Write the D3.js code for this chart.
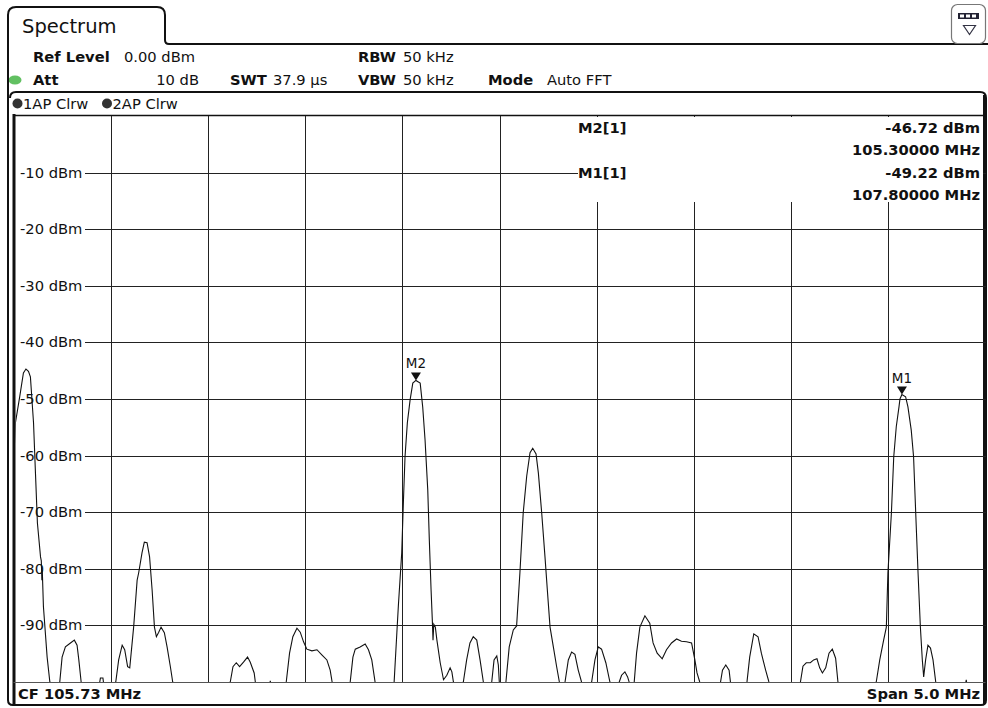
<!DOCTYPE html>
<html><head><meta charset="utf-8">
<script src="https://cdn.jsdelivr.net/npm/d3@7"></script>
<style>
body{margin:0;background:#fff}
svg{display:block}
text{font-family:"DejaVu Sans",Verdana,sans-serif;fill:#111}
</style>
</head><body>
<svg id="c" width="988" height="708"></svg>
<script>
// ---- data ----
const centerFreq = 105.73;   // MHz
const spanMHz = 5.0;
const refLevel = 0;          // dBm (top)
const bottomLevel = -100;    // dBm (bottom)
const levelTicks = [-10, -20, -30, -40, -50, -60, -70, -80, -90];
const levelTickLabels = ["-10 dBm","-20 dBm","-30 dBm","-40 dBm","-50 dBm","-60 dBm","-70 dBm","-80 dBm","-90 dBm"];
const traceFreqs = [103.230,103.240,103.261,103.281,103.294,103.307,103.317,103.333,103.343,103.353,103.369,103.373,103.376,103.378,103.384,103.403,103.417,103.440,103.468,103.480,103.497,103.523,103.543,103.557,103.566,103.578,103.620,103.667,103.677,103.690,103.698,103.728,103.756,103.771,103.789,103.802,103.817,103.828,103.848,103.866,103.874,103.891,103.903,103.917,103.930,103.943,103.955,103.965,103.977,103.989,104.006,104.020,104.037,104.049,104.090,104.200,104.345,104.359,104.376,104.393,104.413,104.434,104.448,104.468,104.474,104.510,104.545,104.551,104.556,104.602,104.633,104.650,104.667,104.688,104.705,104.722,104.739,104.765,104.791,104.816,104.842,104.859,104.869,104.910,104.962,104.976,104.988,105.013,105.039,105.056,105.073,105.090,105.142,105.188,105.202,105.210,105.227,105.236,105.244,105.256,105.270,105.284,105.300,105.322,105.335,105.347,105.361,105.369,105.378,105.385,105.388,105.392,105.400,105.408,105.425,105.442,105.459,105.476,105.485,105.493,105.517,105.544,105.561,105.578,105.595,105.613,105.630,105.647,105.666,105.690,105.702,105.716,105.724,105.729,105.748,105.763,105.780,105.801,105.818,105.835,105.852,105.870,105.887,105.901,105.918,105.930,105.947,105.964,105.976,105.990,106.007,106.024,106.038,106.052,106.067,106.084,106.101,106.118,106.135,106.152,106.174,106.204,106.221,106.238,106.255,106.277,106.298,106.323,106.346,106.358,106.375,106.389,106.397,106.411,106.423,106.435,106.452,106.478,106.503,106.520,106.541,106.567,106.589,106.615,106.641,106.666,106.692,106.718,106.735,106.746,106.760,106.812,106.867,106.877,106.894,106.911,106.918,106.966,107.003,107.017,107.038,107.060,107.077,107.099,107.116,107.197,107.278,107.291,107.308,107.329,107.346,107.363,107.377,107.391,107.408,107.425,107.442,107.459,107.471,107.557,107.668,107.686,107.706,107.720,107.728,107.746,107.758,107.771,107.785,107.790,107.800,107.819,107.831,107.848,107.860,107.871,107.883,107.895,107.905,107.912,107.922,107.934,107.947,107.960,107.974,108.045,108.122,108.131,108.138,108.225];
const traceLevels = [-61.5,-54.2,-49.8,-45.4,-44.7,-45.1,-46.1,-54.2,-63.1,-71.9,-77.9,-78.6,-82.0,-80.2,-86.7,-95.6,-100,-103,-100,-95.6,-93.8,-93.1,-92.6,-93.5,-96.1,-100,-103,-101.4,-99.3,-99.3,-101.4,-103,-100,-96.1,-93.5,-94.3,-97.3,-97.5,-90.3,-82.0,-80.7,-77.2,-75.3,-75.4,-77.9,-83.7,-90.3,-92.0,-91.2,-90.3,-91.3,-93.8,-97.3,-100,-104,-104,-100,-97.3,-96.6,-97.3,-96.5,-95.6,-96.5,-98.4,-100,-103,-101,-99.8,-101,-103,-100,-94.9,-92.0,-90.5,-91.2,-92.9,-94.2,-94.5,-94.3,-95.2,-96.1,-97.9,-100,-103,-100,-95.6,-94.2,-93.8,-93.3,-94.3,-96.1,-100,-103,-100,-91.3,-86.4,-77.2,-67.8,-60.2,-54.2,-50.2,-47.2,-46.72,-47.2,-51.4,-57.2,-66.1,-74.9,-83.7,-89.6,-92.6,-89.8,-90.3,-92.6,-96.6,-99.6,-98.8,-97.5,-98.2,-100,-103,-100,-96.1,-93.1,-92.0,-92.6,-96.1,-100,-103,-100,-96.1,-95.4,-97.0,-100,-103,-100,-93.8,-90.8,-90.1,-80.7,-70.1,-63.6,-59.5,-58.7,-59.7,-63.1,-70.1,-77.9,-83.7,-90.3,-93.8,-97.3,-100,-103,-100,-96.1,-94.7,-95.1,-97.9,-100,-103,-100,-96.1,-93.8,-94.2,-96.6,-100,-103,-100,-98.8,-98.2,-99.1,-100,-103,-100,-94.9,-90.3,-88.3,-89.6,-93.1,-94.9,-95.9,-94.3,-93.1,-92.4,-92.8,-92.9,-93.1,-96.1,-98.4,-100,-103,-100,-97.9,-97.0,-97.9,-100,-103,-100,-95.6,-91.5,-92.0,-94.9,-97.9,-100,-103,-100,-97.2,-96.6,-96.6,-96.1,-95.9,-97.5,-98.4,-97.5,-94.9,-94.2,-95.8,-100,-103,-100,-96.1,-92.6,-90.3,-80.7,-70.1,-60.2,-54.9,-51.4,-50.0,-49.22,-49.6,-51.4,-55.5,-60.2,-70.1,-80.7,-90.3,-96.1,-99.1,-96.1,-93.5,-94.0,-96.1,-100,-103,-101.4,-99.6,-101.4,-103];
const markerNames = ["M2", "M1"];
const markerFreqs = [105.30, 107.80];
const markerLevels = [-46.72, -49.22];
const markerTableNames = ["M2[1]", "M1[1]"];
const markerTableLevels = ["-46.72 dBm", "-49.22 dBm"];
const markerTableFreqs = ["105.30000 MHz", "107.80000 MHz"];
const headerRow1 = [["Ref Level", true, 33], ["0.00 dBm", false, 124], ["RBW", true, 358], ["50 kHz", false, 403]];
const headerRow2 = [["Att", true, 33], ["SWT", true, 230], ["37.9 µs", false, 273], ["VBW", true, 358], ["50 kHz", false, 403], ["Mode", true, 488], ["Auto FFT", false, 547]];
const traceLegend = ["1AP Clrw", "2AP Clrw"];
const footerLeft = "CF 105.73 MHz";
const footerRight = "Span 5.0 MHz";

// ---- layout ----
const svg = d3.select("#c");
const X0 = 13.5, X1 = 985.5, Y0 = 116, Y1 = 682;
const fStart = centerFreq - spanMHz / 2, fStop = centerFreq + spanMHz / 2;
const x = d3.scaleLinear().domain([fStart, fStop]).range([X0, X1]);
const y = d3.scaleLinear().domain([bottomLevel, refLevel]).range([Y1, Y0]);
const FS = 14.7;

// tab header
svg.append("path")
  .attr("d", "M8,44 L8,15 Q8,7 16,7 L157,7 Q165,7 165,15 L165,40 Q165,44 169,44 L988,44")
  .attr("fill", "none").attr("stroke", "#111").attr("stroke-width", 2);
svg.append("text").attr("x", 22).attr("y", 33).attr("font-size", 19.5).text("Spectrum");
// right icon
svg.append("rect").attr("x", 951.5).attr("y", 4.5).attr("width", 34).attr("height", 39).attr("rx", 6)
  .attr("fill", "#fff").attr("stroke", "#777").attr("stroke-width", 1.2);
svg.append("rect").attr("x", 958).attr("y", 13).attr("width", 21).attr("height", 6).attr("fill", "#223");
[960, 966, 972].forEach(cx => svg.append("rect").attr("x", cx).attr("y", 14.5).attr("width", 4).attr("height", 3).attr("fill", "#fff"));
svg.append("path").attr("d", "M963.5,25.5 L975.5,25.5 L969.5,34.5 Z").attr("fill", "none").attr("stroke", "#334").attr("stroke-width", 1.2);

// header params
headerRow1.forEach(d => svg.append("text").attr("x", d[2]).attr("y", 62).attr("font-size", FS).attr("font-weight", d[1] ? "bold" : "normal").text(d[0]));
headerRow2.forEach(d => svg.append("text").attr("x", d[2]).attr("y", 85).attr("font-size", FS).attr("font-weight", d[1] ? "bold" : "normal").text(d[0]));
svg.append("text").attr("x", 199).attr("y", 85).attr("font-size", FS).attr("text-anchor", "end").text("10 dB");
svg.append("ellipse").attr("cx", 15).attr("cy", 80).attr("rx", 6.5).attr("ry", 4.5).attr("fill", "#62c062");

// outer panel
svg.append("path")
  .attr("d", "M8,44 L8,700 Q8,705 13,705 L981,705 Q986,705 986,700 L986,98 Q986,92 980,92 L16,92 Q10,92 10,98")
  .attr("fill", "none").attr("stroke", "#111").attr("stroke-width", 2);

// trace legend
traceLegend.forEach((t, i) => {
  const cx = i === 0 ? 17.5 : 107;
  svg.append("circle").attr("cx", cx).attr("cy", 103.5).attr("r", 5).attr("fill", "#333");
  svg.append("text").attr("x", cx + 5.5).attr("y", 109).attr("font-size", FS).text(t);
});

// plot frame
svg.append("line").attr("x1", X0).attr("x2", X1).attr("y1", 115.5).attr("y2", 115.5).attr("stroke", "#111").attr("stroke-width", 1.5);
svg.append("line").attr("x1", 14).attr("x2", 14).attr("y1", 114).attr("y2", 704).attr("stroke", "#111").attr("stroke-width", 3);
svg.append("line").attr("x1", 984.5).attr("x2", 984.5).attr("y1", 95).attr("y2", 704).attr("stroke", "#111").attr("stroke-width", 3);
svg.append("line").attr("x1", X0).attr("x2", X1).attr("y1", Y1 + 0.5).attr("y2", Y1 + 0.5).attr("stroke", "#555").attr("stroke-width", 1);

// grid via axes
const gridFreqs = d3.range(1, 10).map(i => fStart + i * spanMHz / 10);
const gx = svg.append("g").attr("transform", `translate(0,${Y0})`)
  .call(d3.axisBottom(x).tickValues(gridFreqs).tickSize(Y1 - Y0).tickFormat(""));
gx.select(".domain").remove();
gx.selectAll("line").attr("stroke", "#222").attr("shape-rendering", "crispEdges");
const LX = 85;
const gy = svg.append("g").attr("transform", `translate(${LX},0)`)
  .call(d3.axisRight(y).tickValues(levelTicks).tickSize(X1 - LX).tickFormat(""));
gy.select(".domain").remove();
gy.selectAll("line").attr("stroke", "#222").attr("shape-rendering", "crispEdges");
levelTicks.forEach((v, i) => svg.append("text").attr("x", 20).attr("y", y(v) + 5).attr("font-size", FS).text(levelTickLabels[i]));

// marker table box
svg.append("rect").attr("x", 578).attr("y", 117).attr("width", 405).attr("height", 85).attr("fill", "#fff");
markerTableNames.forEach((n, i) => {
  const by = 133 + i * 45;
  svg.append("text").attr("x", 578).attr("y", by).attr("font-size", FS).attr("font-weight", "bold").text(n);
  svg.append("text").attr("x", 980).attr("y", by).attr("font-size", FS).attr("font-weight", "bold").attr("text-anchor", "end").text(markerTableLevels[i]);
  svg.append("text").attr("x", 980).attr("y", by + 22).attr("font-size", FS).attr("font-weight", "bold").attr("text-anchor", "end").text(markerTableFreqs[i]);
});

// trace
svg.append("clipPath").attr("id", "pc").append("rect").attr("x", 15.5).attr("y", Y0).attr("width", 968).attr("height", Y1 - Y0);
const line = d3.line().x((d, i) => x(traceFreqs[i])).y((d, i) => y(traceLevels[i]));
svg.append("path").datum(traceLevels).attr("clip-path", "url(#pc)")
  .attr("d", line).attr("fill", "none").attr("stroke", "#111").attr("stroke-width", 1.1);

// markers
markerNames.forEach((m, i) => {
  const mx = x(markerFreqs[i]), my = y(markerLevels[i]);
  svg.append("path").attr("d", `M${mx - 5},${my - 8} L${mx + 5},${my - 8} L${mx},${my} Z`).attr("fill", "#111");
  svg.append("text").attr("x", mx).attr("y", my - 12).attr("font-size", 13.5).attr("text-anchor", "middle").text(m);
});

// footer
svg.append("text").attr("x", 18).attr("y", 699).attr("font-size", FS).attr("font-weight", "bold").text(footerLeft);
svg.append("text").attr("x", 980).attr("y", 699).attr("font-size", FS).attr("font-weight", "bold").attr("text-anchor", "end").text(footerRight);
</script>
</body></html>
